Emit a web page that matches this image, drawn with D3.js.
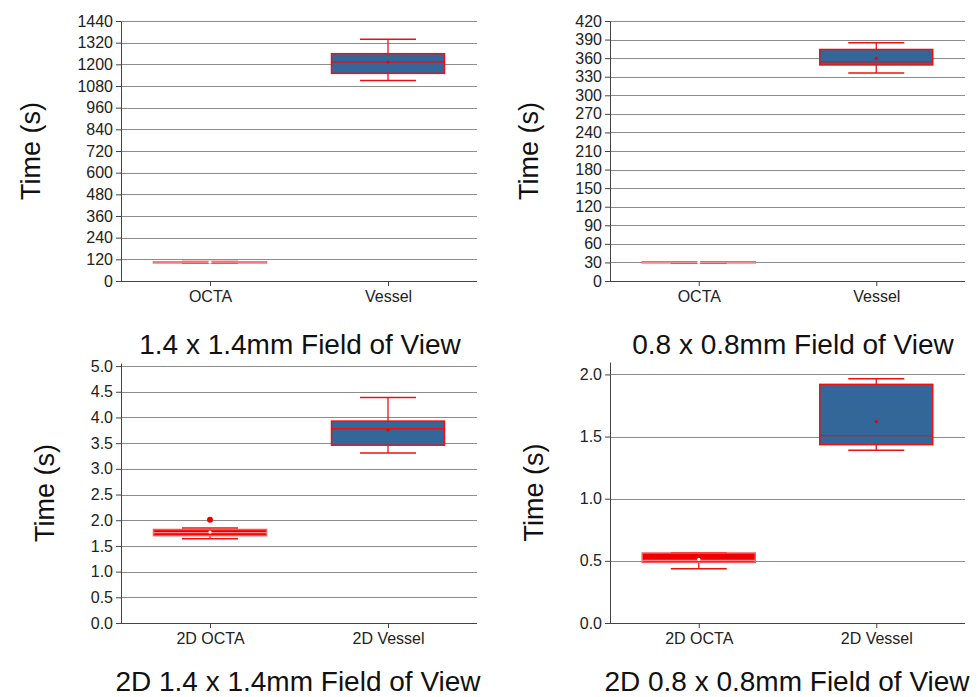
<!DOCTYPE html>
<html>
<head>
<meta charset="utf-8">
<script src="https://cdn.jsdelivr.net/npm/d3@7"></script>
<style>
  body { margin: 0; background: #fff; }
  svg { display: block; font-family: "Liberation Sans", Arial, sans-serif; }
</style>
</head>
<body>
<div id="chart-area"></div>
<script>
// categories
var catsTop = ["OCTA", "Vessel"]
var catsBottom = ["2D OCTA", "2D Vessel"]

// five-number summaries per category: [min, q1, median, q3, max]
var box14 = [[100, 103, 104, 106, 108], [1111, 1150, 1213, 1259, 1339]]
var box08 = [[29, 30, 30, 31, 31], [336, 349, 354, 374, 385]]
var box2d14 = [[1.64, 1.70, 1.76, 1.82, 1.85], [3.31, 3.46, 3.78, 3.93, 4.39]]
var box2d08 = [[0.437, 0.488, 0.504, 0.563, 0.565], [1.39, 1.435, 1.507, 1.92, 1.966]]

// means and outliers
var mean14 = [104, 1213]
var mean08 = [30, 360]
var mean2d14 = [1.77, 3.755]
var mean2d08 = [0.512, 1.62]
var out14 = [[], []]
var out08 = [[], []]
var out2d14 = [[2.01], []]
var out2d08 = [[], []]

// axis ticks
var ticks14 = d3.range(0, 1441, 120)
var ticks08 = d3.range(0, 421, 30)
var ticks2d14 = d3.range(0, 5.01, 0.5)
var ticks2d08 = d3.range(0, 2.01, 0.5)

var titles = ["1.4 x 1.4mm Field of View", "0.8 x 0.8mm Field of View",
              "2D 1.4 x 1.4mm Field of View", "2D 0.8 x 0.8mm Field of View"]

var fills = ["#ee0000", "#336699"]

var svg = d3.select("#chart-area")
    .append("svg")
    .attr("width", 979)
    .attr("height", 697)

function drawPanel(p) {
    var g = svg.append("g")

    var y = d3.scaleLinear()
        .domain([0, p.yMax])
        .range([p.bottom, p.top])

    var x = d3.scalePoint()
        .domain(p.cats)
        .range([p.left, p.right])
        .padding(0.5)

    // gridlines
    g.selectAll(".grid")
        .data(p.ticks.filter(d => d > 0))
        .enter().append("line")
        .attr("x1", p.left)
        .attr("x2", p.right)
        .attr("y1", d => Math.round(y(d)) + 0.5)
        .attr("y2", d => Math.round(y(d)) + 0.5)
        .style("stroke", "#8c8c8c")
        .style("stroke-width", 1)

    var leftAxis = d3.axisLeft(y)
        .tickValues(p.ticks)
        .tickSize(5)
        .tickSizeOuter(0)
        .tickFormat(p.fmt)

    var yAxis = g.append("g")
        .attr("transform", "translate(" + p.left + ",0)")
        .call(leftAxis)
    yAxis.attr("font-family", null)
    yAxis.select(".domain").style("stroke", "#444")
    yAxis.selectAll(".tick line").style("stroke", "#444")
    yAxis.selectAll("text")
        .attr("font-size", "16px")
        .attr("fill", "#222")
        .attr("x", -8)

    var botAxis = d3.axisBottom(x)
        .tickSize(5)
        .tickSizeOuter(0)

    var xAxis = g.append("g")
        .attr("transform", "translate(0," + p.bottom + ")")
        .call(botAxis)
    xAxis.attr("font-family", null)
    xAxis.select(".domain")
        .attr("d", "M" + p.left + ",0.5H" + p.right)
        .style("stroke", "#444")
    xAxis.selectAll(".tick line").style("stroke", "#444")
    xAxis.selectAll("text")
        .attr("font-size", "16px")
        .attr("fill", "#222")
        .attr("y", 10)

    var bw = 113
    var cw = 56

    p.cats.forEach(function(c, i) {
        var s = p.box[i]
        var cx = x(c)
        var stroke = "#ee1111"

        // whisker stems
        g.append("line")
            .attr("x1", cx).attr("x2", cx)
            .attr("y1", y(s[4])).attr("y2", y(s[3]))
            .style("stroke", stroke).style("stroke-width", 1.3)
        g.append("line")
            .attr("x1", cx).attr("x2", cx)
            .attr("y1", y(s[1])).attr("y2", y(s[0]))
            .style("stroke", stroke).style("stroke-width", 1.3)
        // caps
        ;[s[0], s[4]].forEach(function(v) {
            g.append("line")
                .attr("x1", cx - cw / 2).attr("x2", cx + cw / 2)
                .attr("y1", y(v)).attr("y2", y(v))
                .style("stroke", stroke).style("stroke-width", 1.5)
        })
        // box
        g.append("rect")
            .attr("x", cx - bw / 2)
            .attr("y", y(s[3]))
            .attr("width", bw)
            .attr("height", Math.max(y(s[1]) - y(s[3]), 1))
            .style("fill", fills[i])
            .style("stroke", i == 0 ? "#ff5555" : stroke)
            .style("stroke-width", 1.5)
        // median
        g.append("line")
            .attr("x1", cx - bw / 2).attr("x2", cx + bw / 2)
            .attr("y1", y(s[2])).attr("y2", y(s[2]))
            .style("stroke", i == 0 ? "#ff8888" : stroke)
            .style("stroke-width", 1.3)
        // mean
        g.append("circle")
            .attr("cx", cx)
            .attr("cy", y(p.mean[i]))
            .attr("r", 1.6)
            .style("fill", i == 0 ? "#ffffff" : "#ee0000")
        // outliers
        p.out[i].forEach(function(v) {
            g.append("circle")
                .attr("cx", cx)
                .attr("cy", y(v))
                .attr("r", 3)
                .style("fill", "#ee0000")
        })
    })

    // y label
    g.append("text")
        .attr("transform", "translate(" + p.labelX + "," + ((p.top + p.bottom) / 2) + ") rotate(-90)")
        .attr("text-anchor", "middle")
        .attr("dy", "0.35em")
        .attr("font-size", "27px")
        .attr("fill", "#111")
        .text("Time (s)")

    // title
    g.append("text")
        .attr("x", p.titleX)
        .attr("y", p.titleY)
        .attr("text-anchor", "middle")
        .attr("font-size", "28px")
        .attr("fill", "#111")
        .text(p.title)
}

var panels = [
    {cats: catsTop, box: box14, mean: mean14, out: out14, ticks: ticks14, yMax: 1440,
     fmt: d3.format("d"), left: 121, right: 477, top: 21, bottom: 281,
     labelX: 31, title: titles[0], titleX: 300, titleY: 354},
    {cats: catsTop, box: box08, mean: mean08, out: out08, ticks: ticks08, yMax: 420,
     fmt: d3.format("d"), left: 610, right: 965, top: 21, bottom: 281,
     labelX: 529, title: titles[1], titleX: 793, titleY: 354},
    {cats: catsBottom, box: box2d14, mean: mean2d14, out: out2d14, ticks: ticks2d14, yMax: 5.06,
     fmt: d3.format(".1f"), left: 121, right: 477, top: 363, bottom: 623,
     labelX: 45, title: titles[2], titleX: 298, titleY: 691},
    {cats: catsBottom, box: box2d08, mean: mean2d08, out: out2d08, ticks: ticks2d08, yMax: 2.1,
     fmt: d3.format(".1f"), left: 610, right: 965, top: 362, bottom: 623,
     labelX: 534, title: titles[3], titleX: 787, titleY: 691}
]

panels.forEach(drawPanel)
</script>
</body>
</html>
